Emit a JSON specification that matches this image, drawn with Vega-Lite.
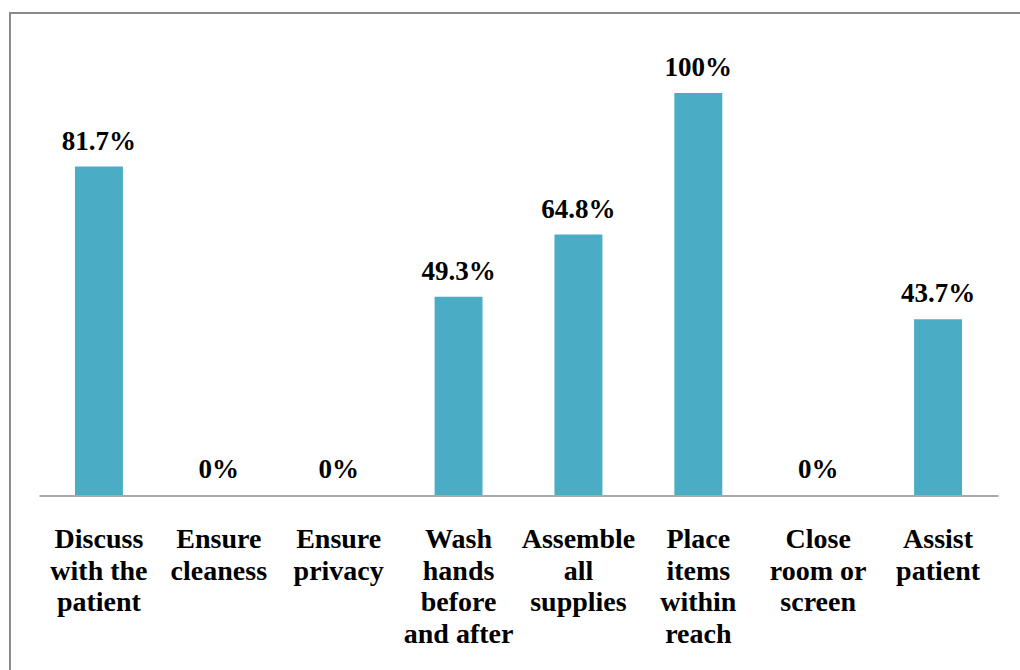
{
  "$schema": "https://vega.github.io/schema/vega-lite/v6.json",
  "autosize": "none",
  "width": 1012,
  "height": 660,
  "padding": {"left": 10, "top": 13, "right": -2, "bottom": -3},
  "background": "white",
  "config": {
    "view": {"stroke": "#8a8a8a", "strokeWidth": 2},
    "font": "Liberation Serif"
  },
  "data": {
    "values": [
      {"action": "Discuss\nwith the\npatient", "share": 0.817},
      {"action": "Ensure\ncleaness", "share": 0},
      {"action": "Ensure\nprivacy", "share": 0},
      {"action": "Wash\nhands\nbefore\nand after", "share": 0.493},
      {"action": "Assemble\nall\nsupplies", "share": 0.648},
      {"action": "Place\nitems\nwithin\nreach", "share": 1.0},
      {"action": "Close\nroom or\nscreen", "share": 0},
      {"action": "Assist\npatient", "share": 0.437}
    ]
  },
  "encoding": {
    "x": {
      "field": "action",
      "type": "nominal",
      "sort": null,
      "scale": {"range": [29, 988], "paddingInner": 0.6, "paddingOuter": 0.3},
      "axis": {
        "title": null,
        "orient": "bottom",
        "offset": -177.5,
        "labelAngle": 0,
        "labelAlign": "center",
        "labelBaseline": "top",
        "labelExpr": "split(datum.label, '\\n')",
        "labelFont": "Liberation Serif",
        "labelFontSize": 28,
        "labelFontWeight": "bold",
        "labelColor": "#000000",
        "labelLineHeight": 31.5,
        "labelPadding": 30,
        "labelLimit": 0,
        "labelOverlap": false,
        "ticks": false,
        "tickSize": 0,
        "domain": true,
        "domainColor": "#8c8c8c",
        "domainWidth": 1.5,
        "grid": false
      }
    },
    "y": {
      "field": "share",
      "type": "quantitative",
      "scale": {"domain": [-0.4428, 1.199], "nice": false, "zero": false},
      "axis": null
    }
  },
  "layer": [
    {
      "mark": {"type": "bar", "color": "#4BACC6"},
      "encoding": {"y2": {"datum": 0}}
    },
    {
      "mark": {
        "type": "text",
        "baseline": "alphabetic",
        "align": "center",
        "dy": -17,
        "font": "Liberation Serif",
        "fontSize": 27,
        "fontWeight": "bold",
        "color": "#000000"
      },
      "encoding": {
        "text": {"field": "share", "type": "quantitative", "format": ".1~%"}
      }
    }
  ]
}
